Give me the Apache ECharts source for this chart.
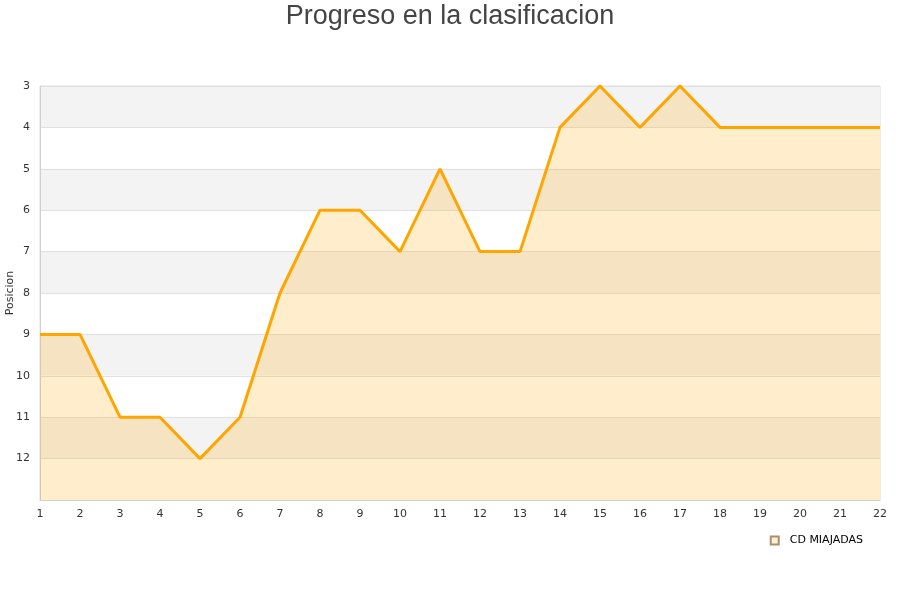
<!DOCTYPE html>
<html><head><meta charset="utf-8">
<script src="https://cdn.jsdelivr.net/npm/echarts@6/dist/echarts.min.js"></script>
<style>html,body{margin:0;padding:0;background:#fff}#c{width:900px;height:600px}</style>
</head><body><div id="c"></div>
<script>
const jornadas = ['1','2','3','4','5','6','7','8','9','10','11','12','13','14','15','16','17','18','19','20','21','22'];
const posiciones = [9,9,11,11,12,11,8,6,6,7,5,7,7,4,3,4,3,4,4,4,4,4];
const seriesName = 'CD MIAJADAS';
const titleText = 'Progreso en la clasificacion';
const yAxisName = 'Posicion';

const chart = echarts.init(document.getElementById('c'));
chart.setOption({
  animation: false,
  title: { text: titleText, left: 'center', top: -2,
    textStyle: { fontFamily: 'Liberation Sans, Arial, sans-serif', fontSize: 27, fontWeight: 'normal', color: '#444' } },
  legend: { data: [{ name: seriesName, icon: 'rect' }], right: 32, top: 530, itemWidth: 8, itemHeight: 8, itemGap: 10,
    textStyle: { fontFamily: 'DejaVu Sans, sans-serif', fontSize: 11, color: '#000', padding: [0, 0, 0, 6] } },
  grid: { left: 40, right: 20, top: 86, bottom: 100, show: true, borderColor: '#dcdcdc', borderWidth: 1,
    containLabel: false, outerBoundsMode: 'none' },
  xAxis: { type: 'category', data: jornadas, boundaryGap: false,
    axisLine: { lineStyle: { color: '#d0d0d0' } }, axisTick: { show: false },
    axisLabel: { color: '#333', fontFamily: 'DejaVu Sans, sans-serif', fontSize: 11, margin: 9 },
    splitLine: { show: false } },
  yAxis: { type: 'value', inverse: true, min: 3, max: 13, interval: 1, name: yAxisName,
    nameLocation: 'middle', nameGap: 24, nameMoveOverlap: false,
    nameTextStyle: { color: '#333', fontFamily: 'DejaVu Sans, sans-serif', fontSize: 11 },
    axisLine: { show: true, lineStyle: { color: '#d0d0d0' } }, axisTick: { show: false },
    axisLabel: { color: '#333', fontFamily: 'DejaVu Sans, sans-serif', fontSize: 11, margin: 10,
      formatter: v => v === 13 ? '' : String(v) },
    splitLine: { show: true, lineStyle: { color: '#e0e0e0' } },
    splitArea: { show: true, areaStyle: { color: ['#f3f3f3', '#ffffff'] } } },
  series: [{ name: seriesName, type: 'line', data: posiciones, showSymbol: false, symbol: 'none',
    lineStyle: { color: '#FFA500', width: 3 },
    itemStyle: { color: '#fff0d4', borderColor: '#a89070', borderWidth: 1 },
    areaStyle: { color: 'rgba(255,165,0,0.2)', opacity: 1, origin: 'end' } }]
});
</script></body></html>
